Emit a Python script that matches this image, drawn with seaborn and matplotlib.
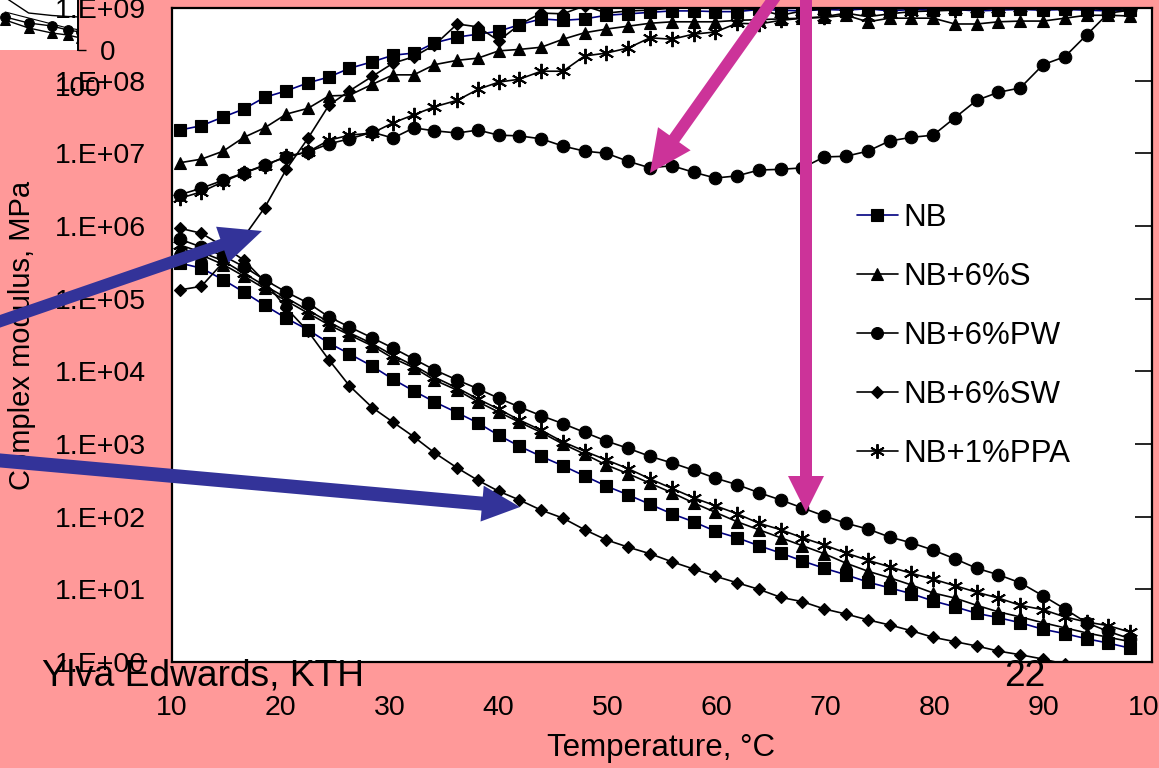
import numpy as np
import pandas as pd
import matplotlib
matplotlib.use("Agg")
import matplotlib.pyplot as plt
import seaborn as sns
from matplotlib.lines import Line2D
from matplotlib.ticker import FixedLocator, FuncFormatter, NullLocator
from matplotlib.patches import FancyArrow

# ---------------------------------------------------------------- data
# Test temperatures, degC
temperature = [10.7, 12.7, 14.7, 16.6, 18.5, 20.5, 22.5, 24.4, 26.3, 28.4,
               30.3, 32.2, 34.1, 36.2, 38.1, 40.0, 41.9, 43.9, 45.9, 47.9,
               49.9, 51.9, 53.9, 55.9, 57.9, 59.9, 61.9, 63.9, 65.9, 67.9,
               69.9, 71.9, 73.9, 75.9, 77.9, 79.9, 81.9, 83.9, 85.9, 87.9,
               90.0, 92.0, 94.0, 96.0, 98.0]

# log10 of complex modulus (MPa): falling branch of each binder
nb_low = [5.49, 5.42, 5.26, 5.09, 4.91, 4.73, 4.57, 4.39, 4.24, 4.07,
          3.89, 3.73, 3.58, 3.43, 3.29, 3.12, 2.97, 2.83, 2.70, 2.56,
          2.42, 2.30, 2.17, 2.04, 1.93, 1.80, 1.71, 1.60, 1.50, 1.39,
          1.29, 1.20, 1.10, 1.02, 0.94, 0.84, 0.76, 0.67, 0.61, 0.54,
          0.45, 0.39, 0.32, 0.26, 0.19]
s_low = [5.70, 5.60, 5.47, 5.31, 5.14, 4.97, 4.80, 4.64, 4.50, 4.35,
         4.18, 4.05, 3.88, 3.74, 3.58, 3.44, 3.30, 3.16, 3.00, 2.86,
         2.71, 2.59, 2.46, 2.33, 2.19, 2.06, 1.93, 1.82, 1.71, 1.60,
         1.49, 1.36, 1.25, 1.16, 1.06, 0.95, 0.88, 0.78, 0.69, 0.62,
         0.54, 0.47, 0.40, 0.34, 0.28]
pw_low = [5.82, 5.71, 5.59, 5.44, 5.26, 5.09, 4.94, 4.75, 4.61, 4.46,
          4.32, 4.17, 4.02, 3.88, 3.76, 3.63, 3.51, 3.39, 3.28, 3.16,
          3.04, 2.94, 2.83, 2.74, 2.64, 2.53, 2.44, 2.33, 2.23, 2.12,
          2.01, 1.91, 1.83, 1.72, 1.64, 1.54, 1.42, 1.29, 1.20, 1.09,
          0.91, 0.73, 0.54, 0.42, 0.32]
sw_low = [5.97, 5.90, 5.72, 5.53, 5.24, 4.87, 4.55, 4.16, 3.80, 3.50,
          3.30, 3.10, 2.88, 2.67, 2.50, 2.35, 2.23, 2.09, 1.98, 1.82,
          1.68, 1.58, 1.49, 1.38, 1.28, 1.18, 1.09, 1.00, 0.89, 0.83,
          0.73, 0.66, 0.58, 0.51, 0.43, 0.34, 0.28, 0.22, 0.15, 0.10,
          0.04, -0.03, -0.10, -0.17, -0.24]
ppa_low = [5.74, 5.64, 5.52, 5.35, 5.18, 5.01, 4.84, 4.68, 4.53, 4.38,
           4.22, 4.08, 3.92, 3.77, 3.62, 3.48, 3.33, 3.19, 3.03, 2.90,
           2.78, 2.66, 2.52, 2.39, 2.26, 2.15, 2.04, 1.91, 1.82, 1.71,
           1.61, 1.50, 1.40, 1.31, 1.22, 1.14, 1.05, 0.96, 0.88, 0.78,
           0.72, 0.62, 0.55, 0.50, 0.41]

# log10 of complex modulus (MPa): rising branch of each binder
nb_up = [7.32, 7.38, 7.50, 7.61, 7.77, 7.86, 7.97, 8.05, 8.17, 8.26,
         8.35, 8.38, 8.52, 8.60, 8.64, 8.68, 8.77, 8.85, 8.83, 8.85,
         8.90, 8.92, 8.94, 8.96, 8.96, 8.95, 8.95, 8.98, 8.97, 8.96,
         8.98, 8.97, 8.99, 8.96, 8.98, 8.97, 8.98, 8.96, 8.97, 8.98,
         8.97, 8.98, 8.97, 8.96, 8.97]
s_up = [6.87, 6.92, 7.03, 7.22, 7.35, 7.54, 7.62, 7.79, 7.80, 7.95,
        8.08, 8.08, 8.22, 8.28, 8.31, 8.41, 8.43, 8.46, 8.57, 8.66,
        8.71, 8.75, 8.79, 8.81, 8.81, 8.81, 8.83, 8.84, 8.85, 8.86,
        8.87, 8.90, 8.81, 8.86, 8.86, 8.86, 8.78, 8.78, 8.81, 8.82,
        8.82, 8.86, 8.90, 8.90, 8.89]
pw_up = [6.43, 6.52, 6.63, 6.73, 6.84, 6.95, 7.02, 7.13, 7.20, 7.29,
         7.21, 7.35, 7.31, 7.28, 7.32, 7.25, 7.24, 7.20, 7.10, 7.03,
         7.00, 6.89, 6.80, 6.83, 6.74, 6.66, 6.69, 6.77, 6.78, 6.80,
         6.95, 6.96, 7.03, 7.17, 7.22, 7.25, 7.49, 7.73, 7.84, 7.90,
         8.22, 8.33, 8.63, 8.93, 8.97]
sw_up = [5.12, 5.17, 5.50, 5.85, 6.25, 6.78, 7.21, 7.66, 7.86, 8.06,
         8.24, 8.33, 8.49, 8.78, 8.74, 8.55, 8.77, 8.93, 8.92, 9.03,
         8.93, 8.96, 8.97, 9.00, 9.02, 8.99, 8.99, 8.98, 8.90, 8.96,
         8.99, 9.00, 8.99, 8.98, 9.00, 8.99, 8.98, 8.99, 9.00, 8.98,
         8.99, 8.98, 8.99, 8.98, 8.97]
ppa_up = [6.38, 6.47, 6.61, 6.73, 6.83, 6.96, 7.02, 7.18, 7.25, 7.28,
          7.42, 7.53, 7.64, 7.73, 7.88, 7.98, 8.02, 8.13, 8.13, 8.34,
          8.38, 8.45, 8.59, 8.57, 8.64, 8.67, 8.79, 8.78, 8.83, 8.86,
          8.88, 8.93, 8.88, 8.92, 8.95, 8.96, 8.97, 8.98, 8.99, 9.00,
          9.01, 9.02, 9.03, 9.04, 9.03]

binders = ["NB", "NB+6%S", "NB+6%PW", "NB+6%SW", "NB+1%PPA"]
low_branch = [nb_low, s_low, pw_low, sw_low, ppa_low]
up_branch = [nb_up, s_up, pw_up, sw_up, ppa_up]

# x / y tick values
x_ticks = [10, 20, 30, 40, 50, 60, 70, 80, 90, 100]
y_exponents = [0, 1, 2, 3, 4, 5, 6, 7, 8, 9]

# small chart fragment in the upper-left corner
inset_x = [72, 81, 90, 96, 101]
inset_circ = [6.6, 5.4, 4.8, 4.0, 3.6]
inset_tri = [6.0, 4.4, 3.4, 3.0, 2.4]
inset_plain = [10.5, 7.4, 6.9, 6.7, 6.6]
inset_thin = [7.6, 6.4, 5.2, 4.4, 4.0]

# ---------------------------------------------------------------- styles
PINK = "#FF9999"
NAVY = "#000080"
BLUE_ARROW = "#333399"
MAGENTA = "#CC3399"

line_color = {"NB": NAVY}
marker_of = {"NB": "s", "NB+6%S": "^", "NB+6%PW": "o",
             "NB+6%SW": "D", "NB+1%PPA": (6, 2, 0)}
msize_of = {"NB": 9, "NB+6%S": 9, "NB+6%PW": 9, "NB+6%SW": 6.5,
            "NB+1%PPA": 11}

sns.set_theme(style="white")
plt.rcParams["font.family"] = ["Liberation Sans", "DejaVu Sans"]
plt.rcParams.update({
    "axes.edgecolor": "black",
    "axes.linewidth": 1.6,
    "xtick.color": "black",
    "ytick.color": "black",
    "text.color": "black",
    "axes.labelcolor": "black",
})

W, H = 1159, 768
fig = plt.figure(figsize=(W / 100, H / 100), dpi=100, facecolor=PINK)

# corner fragment of a neighbouring chart
ins = fig.add_axes([0, 1 - 50 / H, 78 / W, 50 / H], zorder=-1)
ins.set_facecolor("white")
for y, m in [(inset_circ, "o"), (inset_tri, "^")]:
    sns.lineplot(x=inset_x, y=y, ax=ins, color="black", marker=m,
                 markersize=7, markerfacecolor="black",
                 markeredgecolor="black", linewidth=1.0,
                 estimator=None, sort=False, legend=False)
sns.lineplot(x=inset_x, y=inset_plain, ax=ins, color="black", linewidth=1.0,
             estimator=None, sort=False, legend=False)
sns.lineplot(x=inset_x, y=inset_thin, ax=ins, color="black", linewidth=0.8,
             estimator=None, sort=False, legend=False)
ins.set_xlim(70, 100)
ins.set_ylim(0, 10)
for s in ["left", "top", "bottom"]:
    ins.spines[s].set_visible(False)
ins.spines["right"].set_linewidth(1.4)
ins.yaxis.tick_right()
ins.set_yticks([0])
ins.set_yticklabels(["0"])
ins.set_xticks([100])
ins.set_xticklabels(["100"])
ins.tick_params(axis="y", direction="out", length=6, width=1, pad=10,
                labelsize=20)
ins.tick_params(axis="x", length=0, pad=19, labelsize=20)
ins.set_xlabel("")
ins.set_ylabel("")

# main chart
ax = fig.add_axes([172 / W, 1 - 662 / H, 980 / W, 654 / H])
ax.set_facecolor("white")
ax.set_yscale("log")

for name, lo, up in zip(binders, low_branch, up_branch):
    for branch in (lo, up):
        df = pd.DataFrame({"Temperature": temperature,
                           "Modulus": np.power(10.0, branch)})
        mk = marker_of[name]
        star = isinstance(mk, tuple)
        sns.lineplot(data=df, x="Temperature", y="Modulus", ax=ax,
                     color=line_color.get(name, "black"), linewidth=1.2,
                     marker=mk, markersize=msize_of[name],
                     markerfacecolor="black", markeredgecolor="black",
                     markeredgewidth=1.4 if star else 0.8,
                     estimator=None, sort=False, legend=False)

ax.set_xlim(10, 100)
ax.set_ylim(1, 1e9)
ax.xaxis.set_major_locator(FixedLocator(x_ticks))
ax.yaxis.set_major_locator(FixedLocator([10.0 ** e for e in y_exponents]))
ax.yaxis.set_minor_locator(NullLocator())
ax.yaxis.set_major_formatter(
    FuncFormatter(lambda v, p: "1.E+%02d" % int(round(np.log10(v)))))
ax.tick_params(axis="both", which="major", labelsize=20.5, width=1.2,
               length=7, direction="out")
ax.tick_params(axis="x", pad=17)
ax.tick_params(axis="y", pad=12)
ax.tick_params(axis="y", which="major", right=True, labelright=False)
for t in ax.yaxis.get_major_ticks():
    t.tick2line.set_markersize(12)
    t.tick2line.set_marker(matplotlib.lines.TICKLEFT)

ax.set_xlabel("Temperature, °C", fontsize=22.5)
ax.xaxis.set_label_coords(0.499, -0.131)
ax.xaxis.label.set_va("center")
ax.set_ylabel("Complex modulus, MPa", fontsize=21)
ax.yaxis.set_label_coords(-0.153, 0.5)
ax.yaxis.label.set_va("center")

handles = []
for name in binders:
    handles.append(Line2D([], [], color=line_color.get(name, "black"),
                          linewidth=1.2, marker=marker_of[name],
                          markersize=msize_of[name] * 0.95,
                          markerfacecolor="black", markeredgecolor="black",
                          markeredgewidth=1.4 if isinstance(marker_of[name], tuple) else 0.8))
leg = ax.legend(handles, binders, loc="upper left",
                bbox_to_anchor=(857 / W, 1 - 203 / H),
                bbox_transform=fig.transFigure, frameon=False,
                fontsize=22.5, handlelength=1.3, handletextpad=0.2,
                labelspacing=0.93, borderpad=0, borderaxespad=0)

# slide annotations: arrows and footer
ov = fig.add_axes([0, 0, 1, 1], zorder=10)
ov.set_xlim(0, W)
ov.set_ylim(H, 0)
ov.axis("off")
ov.patch.set_alpha(0)


def arrow(x0, y0, x1, y1, color, width, hw, hl):
    ov.add_patch(FancyArrow(x0, y0, x1 - x0, y1 - y0, width=width,
                            head_width=hw, head_length=hl,
                            length_includes_head=True, color=color,
                            linewidth=0))


arrow(-5, 323, 262, 231, BLUE_ARROW, 12, 38, 42)
arrow(-5, 460, 520, 507, BLUE_ARROW, 14, 36, 38)
arrow(787, -20, 650, 173, MAGENTA, 12, 40, 42)
arrow(806, -5, 806, 512, MAGENTA, 12, 36, 36)

ov.text(42, 676, "Ylva Edwards, KTH", fontsize=26.7, ha="left", va="center")
ov.text(1025, 676, "22", fontsize=26.7, ha="center", va="center")

fig.savefig("out.png", dpi=100, facecolor=PINK)
